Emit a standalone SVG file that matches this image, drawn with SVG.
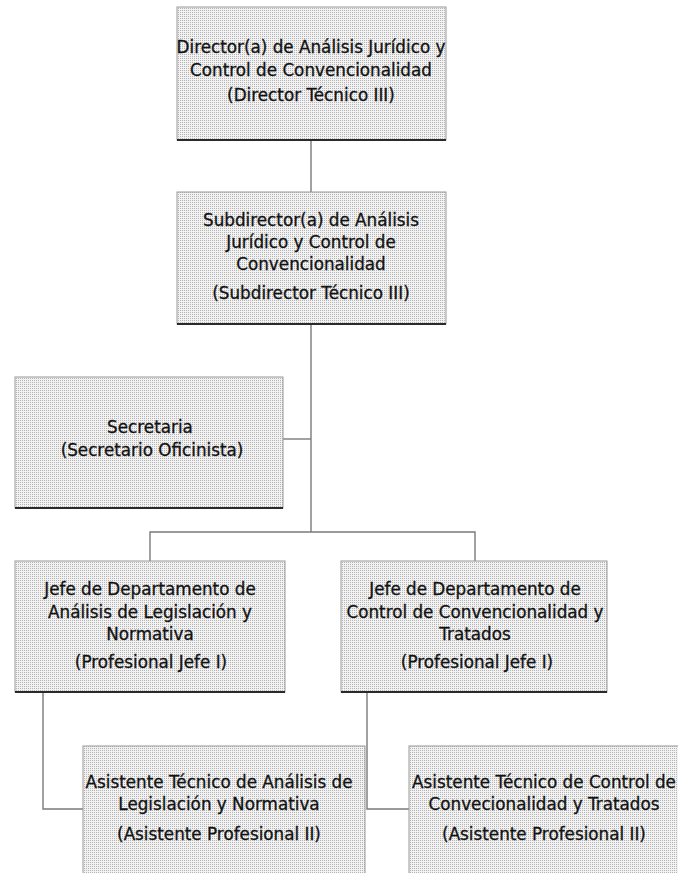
<svg xmlns="http://www.w3.org/2000/svg" width="678" height="873" viewBox="0 0 678 873">
  <defs>
    <pattern id="dither" width="2" height="2" patternUnits="userSpaceOnUse">
      <rect width="2" height="2" fill="#f2f2f2"/>
      <rect width="1" height="1" fill="#b4b4b4"/>
    </pattern>
  </defs>
  <style>
    .box { fill: url(#dither); stroke: #9a9a9a; stroke-width: 1; }
    .shadow { stroke: #2a2a2a; stroke-width: 2.2; fill: none; }
    .lbl { font-family: "DejaVu Sans", "Liberation Sans", sans-serif; font-size: 16.8px; fill: #111; stroke: #111; stroke-width: 0.3; text-anchor: middle; }
    .conn { stroke: #7a7a7a; stroke-width: 1.4; fill: none; }
  </style>
  <rect width="678" height="873" fill="#ffffff"/>

  <g id="connectors">
    <path class="conn" d="M311,140 V192" stroke-width="2"/>
    <path class="conn" d="M311,324 V532"/>
    <path class="conn" d="M283,439 H311"/>
    <path class="conn" d="M150,561 V532 H475 V561"/>
    <path class="conn" d="M43,692 V809 H83"/>
    <path class="conn" d="M367,692 V809 H409"/>
  </g>

  <g id="director">
    <rect class="box" x="177" y="7" width="269" height="133"/>
    <line class="shadow" x1="177" y1="140" x2="446" y2="140"/>
    <text class="lbl" x="311" y="53">Director(a) de Análisis Jurídico y</text>
    <text class="lbl" x="311" y="76">Control de Convencionalidad</text>
    <text class="lbl" x="311" y="101">(Director Técnico III)</text>
  </g>

  <g id="subdirector">
    <rect class="box" x="177" y="192" width="269" height="132"/>
    <line class="shadow" x1="177" y1="324" x2="446" y2="324"/>
    <text class="lbl" x="311" y="226">Subdirector(a) de Análisis</text>
    <text class="lbl" x="311" y="248">Jurídico y Control de</text>
    <text class="lbl" x="311" y="270">Convencionalidad</text>
    <text class="lbl" x="311" y="299">(Subdirector Técnico III)</text>
  </g>

  <g id="secretaria">
    <rect class="box" x="15" y="377" width="268" height="131"/>
    <line class="shadow" x1="15" y1="508" x2="283" y2="508"/>
    <text class="lbl" x="150" y="433">Secretaria</text>
    <text class="lbl" x="152" y="456">(Secretario Oficinista)</text>
  </g>

  <g id="jefe-legislacion">
    <rect class="box" x="15" y="561" width="270" height="131"/>
    <line class="shadow" x1="15" y1="692" x2="285" y2="692"/>
    <text class="lbl" x="150" y="595">Jefe de Departamento de</text>
    <text class="lbl" x="150" y="618">Análisis de Legislación y</text>
    <text class="lbl" x="150" y="640">Normativa</text>
    <text class="lbl" x="151" y="668">(Profesional Jefe I)</text>
  </g>

  <g id="jefe-convencionalidad">
    <rect class="box" x="341" y="561" width="266" height="131"/>
    <line class="shadow" x1="341" y1="692" x2="607" y2="692"/>
    <text class="lbl" x="475" y="595">Jefe de Departamento de</text>
    <text class="lbl" x="475" y="618">Control de Convencionalidad y</text>
    <text class="lbl" x="475" y="640">Tratados</text>
    <text class="lbl" x="477" y="668">(Profesional Jefe I)</text>
  </g>

  <g id="asistente-legislacion">
    <rect class="box" x="83" y="746" width="282" height="134"/>
    <text class="lbl" x="219" y="788">Asistente Técnico de Análisis de</text>
    <text class="lbl" x="219" y="810">Legislación y Normativa</text>
    <text class="lbl" x="219" y="840">(Asistente Profesional II)</text>
  </g>

  <g id="asistente-convencionalidad">
    <rect class="box" x="409" y="746" width="275" height="134"/>
    <text class="lbl" x="544" y="788">Asistente Técnico de Control de</text>
    <text class="lbl" x="544" y="810">Convecionalidad y Tratados</text>
    <text class="lbl" x="544" y="840">(Asistente Profesional II)</text>
  </g>
</svg>
